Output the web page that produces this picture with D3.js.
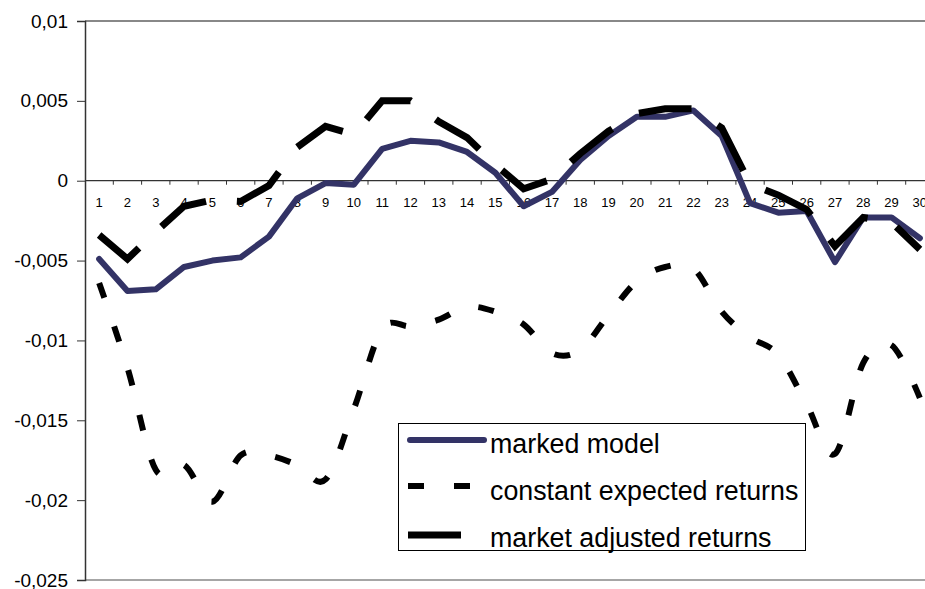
<!DOCTYPE html>
<html>
<head>
<meta charset="utf-8">
<script src="https://cdn.jsdelivr.net/npm/d3@7"></script>
<style>
  html, body { margin: 0; padding: 0; background: #fff; }
  svg { display: block; font-family: "Liberation Sans", Arial, sans-serif; }
</style>
</head>
<body>
<svg id="chart" width="925" height="589"></svg>
<script>
const categories = d3.range(1, 31);
const markedModel = [-0.0049, -0.0069, -0.0068, -0.0054, -0.0050, -0.0048, -0.0035, -0.0011, -0.00015, -0.00025,
  0.0020, 0.0025, 0.0024, 0.0018, 0.0005, -0.0016, -0.0007, 0.0013, 0.0028, 0.0040,
  0.0040, 0.0044, 0.0028, -0.0014, -0.0020, -0.0019, -0.0051, -0.0023, -0.0023, -0.0036];
const constantExpected = [-0.0064, -0.0117, -0.0181, -0.0178, -0.0201, -0.0172, -0.0172, -0.0178, -0.0187, -0.0143,
  -0.0093, -0.0091, -0.0087, -0.0079, -0.0082, -0.0090, -0.0108, -0.0106, -0.0084, -0.0063,
  -0.0054, -0.0055, -0.0082, -0.0098, -0.0109, -0.0140, -0.0171, -0.0114, -0.0103, -0.0136];
const marketAdjusted = [-0.0034, -0.0049, -0.0032, -0.0016, -0.0012, -0.0013, -0.0003, 0.0021, 0.0034, 0.0029,
  0.0050, 0.0050, 0.0037, 0.0027, 0.0010, -0.0005, 0.0001, 0.0017, 0.0031, 0.0042,
  0.0045, 0.0045, 0.0033, -0.0002, -0.0009, -0.0018, -0.0041, -0.0023, -0.0026, -0.0043];
const yTicks = [0.01, 0.005, 0, -0.005, -0.01, -0.015, -0.02, -0.025];
const yTickLabels = ["0,01", "0,005", "0", "-0,005", "-0,01", "-0,015", "-0,02", "-0,025"];
const seriesNames = ["marked model", "constant expected returns", "market adjusted returns"];

(function () {
const svg = d3.select("#chart");
const pL = 85, pR = 934, pT = 21, pB = 580;

const x = d3.scaleBand().domain(categories).range([pL, pR]).padding(0);
const y = d3.scaleLinear().domain([-0.025, 0.01]).range([pB, pT]);
const cx = d => x(d) + x.bandwidth() / 2;

// plot area border (top / bottom gray)
svg.append("line").attr("x1", pL).attr("x2", pR).attr("y1", pT).attr("y2", pT)
  .attr("stroke", "#888").attr("stroke-width", 2);
svg.append("line").attr("x1", pL).attr("x2", pR).attr("y1", pB).attr("y2", pB)
  .attr("stroke", "#888").attr("stroke-width", 1.5);

// y axis
const yAxis = d3.axisLeft(y).tickValues(yTicks).tickSize(8).tickPadding(9)
  .tickFormat((d, i) => yTickLabels[i]);
const gy = svg.append("g").attr("transform", `translate(${pL},0)`).call(yAxis);
gy.select(".domain").attr("stroke", "#333").attr("stroke-width", 1.5);
gy.selectAll(".tick line").attr("stroke", "#333");
gy.selectAll(".tick text").attr("font-size", 19).attr("fill", "#000")
  .attr("font-family", "'Liberation Sans', Arial, sans-serif");

// x axis at zero
const y0 = y(0);
svg.append("line").attr("x1", pL).attr("x2", pR).attr("y1", y0).attr("y2", y0)
  .attr("stroke", "#333").attr("stroke-width", 1.2);
svg.append("g").selectAll("line").data(categories.slice(1)).join("line")
  .attr("x1", d => x(d)).attr("x2", d => x(d))
  .attr("y1", y0).attr("y2", y0 + 4)
  .attr("stroke", "#333").attr("stroke-width", 1);
svg.append("g").selectAll("text").data(categories).join("text")
  .attr("x", d => cx(d)).attr("y", y0 + 26)
  .attr("text-anchor", "middle").attr("font-size", 13).attr("fill", "#000")
  .text(d => d);

// lines
const lineLinear = d3.line().x((d, i) => cx(categories[i])).y(d => y(d));
const lineSmooth = d3.line().x((d, i) => cx(categories[i])).y(d => y(d)).curve(d3.curveCatmullRom.alpha(0));

svg.append("path").datum(constantExpected).attr("d", lineSmooth)
  .attr("fill", "none").attr("stroke", "#000").attr("stroke-width", 6)
  .attr("stroke-dasharray", "16,30");
svg.append("path").datum(markedModel).attr("d", lineLinear)
  .attr("fill", "none").attr("stroke", "#333366").attr("stroke-width", 6)
  .attr("stroke-linejoin", "round").attr("stroke-linecap", "round");
svg.append("path").datum(marketAdjusted).attr("d", lineLinear)
  .attr("fill", "none").attr("stroke", "#000").attr("stroke-width", 7)
  .attr("stroke-dasharray", "53,31");

// legend
const lg = svg.append("g");
lg.append("rect").attr("x", 398.5).attr("y", 423.5).attr("width", 407).attr("height", 127)
  .attr("fill", "#fff").attr("stroke", "#000").attr("stroke-width", 1);
const legendStyles = [
  { stroke: "#333366", width: 6, dash: null, cap: "round", ly: 440, ty: 453 },
  { stroke: "#000", width: 6, dash: "16,30", cap: "butt", ly: 486, ty: 500 },
  { stroke: "#000", width: 7, dash: "53,31", cap: "butt", ly: 535, ty: 547 }
];
seriesNames.forEach((name, i) => {
  const s = legendStyles[i];
  const ln = lg.append("line").attr("x1", s.cap === "round" ? 410 : 408).attr("x2", s.cap === "round" ? 484 : 488)
    .attr("y1", s.ly).attr("y2", s.ly)
    .attr("stroke", s.stroke).attr("stroke-width", s.width).attr("stroke-linecap", s.cap);
  if (s.dash) ln.attr("stroke-dasharray", s.dash);
  lg.append("text").attr("x", 490).attr("y", s.ty).attr("font-size", 26.8).attr("fill", "#000").text(name);
});
})();
</script>
</body>
</html>
